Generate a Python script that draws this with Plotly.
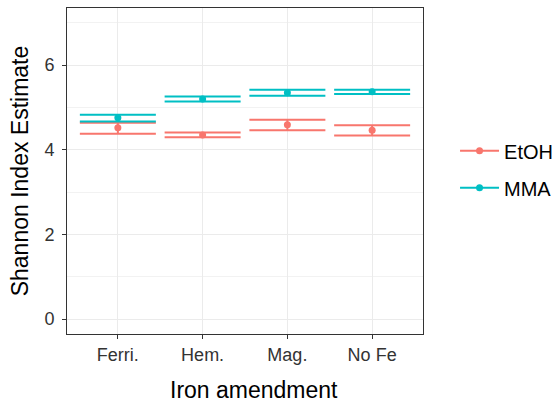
import plotly.graph_objects as go

categories = ["Ferri.", "Hem.", "Mag.", "No Fe"]
groups = ["EtOH", "MMA"]
colors = {"EtOH": "#F8766D", "MMA": "#00BFC4"}

etoh_est = [4.52, 4.35, 4.59, 4.46]
etoh_upper = [4.64, 4.41, 4.71, 4.58]
etoh_lower = [4.38, 4.30, 4.46, 4.34]

mma_est = [4.76, 5.20, 5.35, 5.37]
mma_upper = [4.83, 5.26, 5.42, 5.42]
mma_lower = [4.67, 5.14, 5.28, 5.32]

y_ticks = [0, 2, 4, 6]

data = {
    "EtOH": (etoh_est, etoh_upper, etoh_lower),
    "MMA": (mma_est, mma_upper, mma_lower),
}

fig = go.Figure()
for g in groups:
    est, up, lo = data[g]
    fig.add_trace(go.Scatter(
        x=categories, y=est, mode="markers", name=g, showlegend=False,
        marker=dict(color=colors[g], size=7),
        error_y=dict(type="data", symmetric=False,
                     array=[u - e for u, e in zip(up, est)],
                     arrayminus=[e - l for e, l in zip(est, lo)],
                     color=colors[g], thickness=2, width=38),
    ))
for i, g in enumerate(groups):
    fig.add_trace(go.Scatter(
        x=[None], y=[None], mode="lines+markers", name=g, legendgroup=g,
        line=dict(color=colors[g], width=2), marker=dict(color=colors[g], size=7),
    ))

font_family = "Liberation Sans, Arial, sans-serif"
fig.update_layout(
    width=556, height=404,
    margin=dict(l=67, r=133, t=8, b=70, autoexpand=False),
    paper_bgcolor="white", plot_bgcolor="white",
    font=dict(family=font_family, color="black"),
    showlegend=True,
    legend=dict(x=1.09, y=0.505, xanchor="left", yanchor="middle", itemwidth=39,
                font=dict(size=20, color="black"), tracegroupgap=8,
                bgcolor="rgba(0,0,0,0)"),
    annotations=[dict(text="Iron amendment", xref="paper", yref="paper",
                      x=0.525, y=-0.126, xanchor="center", yanchor="top",
                      showarrow=False, font=dict(size=23, color="black"))],
    xaxis=dict(
        type="category", range=[-0.6, 3.6], automargin=False,
        tickfont=dict(size=18, color="#333333"),
        ticks="outside", ticklen=4, tickcolor="#333333", tickwidth=1,
        showgrid=True, gridcolor="#EBEBEB", gridwidth=1.1,
        showline=True, mirror=True, linecolor="#333333", linewidth=1,
        zeroline=False,
    ),
    yaxis=dict(
        range=[-0.35, 7.35], automargin=False,
        tickvals=y_ticks, ticktext=[str(v) for v in y_ticks],
        title=dict(text="Shannon Index Estimate", font=dict(size=23, color="black"), standoff=9),
        tickfont=dict(size=18, color="#333333"), ticklabelstandoff=4,
        ticks="outside", ticklen=4, tickcolor="#333333", tickwidth=1,
        showgrid=True, gridcolor="#EBEBEB", gridwidth=1.1,
        minor=dict(dtick=1, tick0=1, showgrid=True, gridcolor="#F2F2F2", gridwidth=0.6),
        showline=True, mirror=True, linecolor="#333333", linewidth=1,
        zeroline=False,
    ),
)

fig.write_html(
    "out.html",
    config={"displayModeBar": False},
    post_script="document.body.style.margin='0';document.body.style.overflow='hidden';",
)
